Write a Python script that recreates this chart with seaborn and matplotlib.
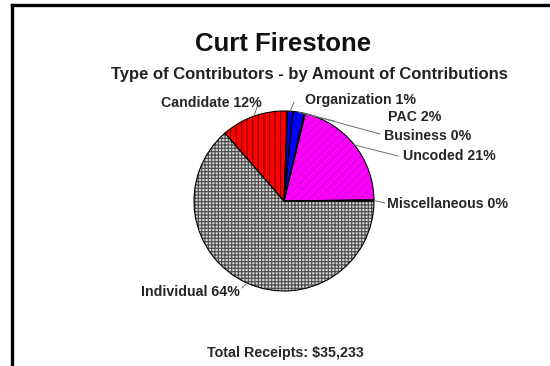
import numpy as np
import matplotlib
matplotlib.use("Agg")
import matplotlib.pyplot as plt
import seaborn as sns

sns.set_theme(style="white")
plt.rcParams['font.family'] = ['Liberation Sans', 'DejaVu Sans']
plt.rcParams['hatch.linewidth'] = 0.8

# data (share of contributions, percent) - counterclockwise from east
categories = ['Miscellaneous', 'Uncoded', 'Business', 'PAC', 'Organization', 'Candidate', 'Individual']
shares = [0.2, 21.0, 0.2, 2.0, 1.0, 12.0, 63.6]
label_pct = [0, 21, 0, 2, 1, 12, 64]
face_colors = ['#000000', '#ff00ff', '#000000', '#0000ff', '#0000e6', '#ff0000', '#d4d4d4']
hatch_colors = ['#000000', '#d000d0', '#000000', '#0000ff', '#0000e6', '#7a0000', '#4a4a4a']
hatches = ['', '////', '', '', '', '|||', '+++++']
# label anchor (pixel coords, top-left origin) and alignment
label_pos = [(387, 204, 'left'), (403, 156, 'left'), (384, 136, 'left'), (388, 117, 'left'),
             (305, 100, 'left'), (262, 103, 'right'), (240, 292, 'right')]
line_end = [(385, 203), (398, 156), (380, 134), (334, 121), (294, 102), (258, 104), (242, 288)]

title = 'Curt Firestone'
subtitle = 'Type of Contributors - by Amount of Contributions'
footer = 'Total Receipts: $35,233'

W, H = 550, 366
fig = plt.figure(figsize=(5.5, 3.66), dpi=100)
ax = fig.add_axes([0, 0, 1, 1])

center = (284, H - 201)
radius = 90

# filled + hatched wedges
wedges, _ = ax.pie(shares, colors=face_colors, startangle=0, counterclock=True,
                   center=center, radius=radius, frame=True,
                   wedgeprops=dict(linewidth=0))
for w, hc, ht in zip(wedges, hatch_colors, hatches):
    w.set_hatch(ht)
    w.set_edgecolor(hc)
# black outlines on top
ax.pie(shares, colors=['none'] * len(shares), startangle=0, counterclock=True,
       center=center, radius=radius, frame=True,
       wedgeprops=dict(linewidth=0.8, edgecolor='black', fill=False))
ax.set_xlim(0, W)
ax.set_ylim(0, H)
ax.axis('off')

# labels with leader lines
for w, cat, p, (lx, ly, ha), (ex, ey) in zip(wedges, categories, label_pct, label_pos, line_end):
    ang = np.deg2rad((w.theta1 + w.theta2) / 2)
    sx = center[0] + radius * np.cos(ang)
    sy = center[1] + radius * np.sin(ang)
    ax.plot([sx, ex], [sy, H - ey], color='#707070', lw=0.7)
    ax.text(lx, H - ly, f'{cat} {p}%', ha=ha, va='center', fontsize=10.2,
            fontweight='bold', color='#262626')

ax.text(283, H - 44, title, ha='center', va='center', fontsize=18.5, fontweight='bold', color='#111111')
ax.text(309, H - 75, subtitle, ha='center', va='center', fontsize=12, fontweight='bold', color='#222222')
ax.text(285, H - 353, footer, ha='center', va='center', fontsize=10.3, fontweight='bold', color='#262626')

# frame lines (top and left)
ax.plot([11.5, W], [H - 5, H - 5], color='black', lw=2.4, solid_capstyle='projecting')
ax.plot([11.5, 11.5], [H - 5, 0], color='black', lw=2.4, solid_capstyle='projecting')

fig.savefig('out.png', dpi=100)
